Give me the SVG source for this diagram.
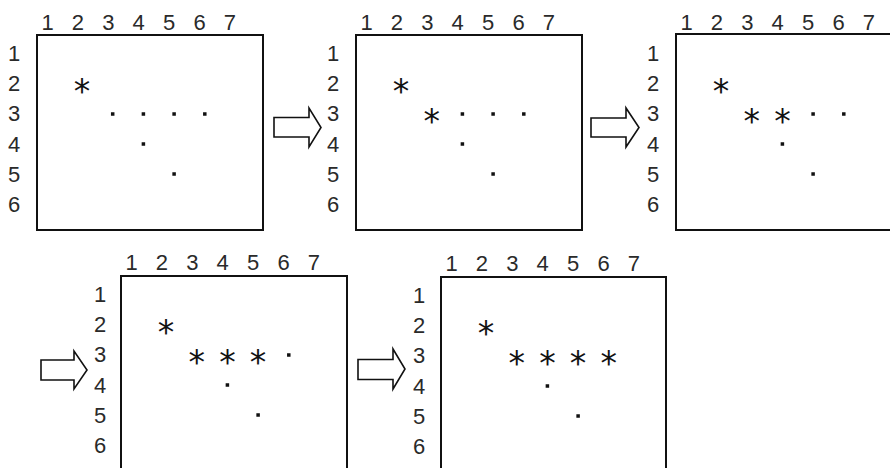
<svg xmlns="http://www.w3.org/2000/svg" width="890" height="468" viewBox="0 0 890 468">
<style>
.box{fill:#fff;stroke:#111;stroke-width:2}
.lbl{font-family:"Liberation Sans",Arial,sans-serif;font-size:22px;fill:#2a2a2a;text-anchor:middle}
.ast{font-family:"DejaVu Sans",sans-serif;font-size:33px;fill:#111;text-anchor:middle}
.dot{fill:#111}
.arr{fill:#fff;stroke:#111;stroke-width:1.6;stroke-linejoin:miter}
</style>
<rect width="890" height="468" fill="#fff"/>
<defs>
<rect id="d" class="dot" x="-1.75" y="-1.75" width="3.5" height="3.5"/>
</defs>

<g id="panel1" transform="translate(37,35)">
<rect class="box" x="0" y="0" width="226" height="195"/>
<text class="lbl" x="10.5" y="-5.5">1</text><text class="lbl" x="40.9" y="-5.5">2</text><text class="lbl" x="71.3" y="-5.5">3</text><text class="lbl" x="101.7" y="-5.5">4</text><text class="lbl" x="132.1" y="-5.5">5</text><text class="lbl" x="162.5" y="-5.5">6</text><text class="lbl" x="192.9" y="-5.5">7</text>
<text class="lbl" x="-23" y="26">1</text><text class="lbl" x="-23" y="56.2">2</text><text class="lbl" x="-23" y="86.4">3</text><text class="lbl" x="-23" y="116.6">4</text><text class="lbl" x="-23" y="146.8">5</text><text class="lbl" x="-23" y="177">6</text>
<text class="ast" x="45" y="68">*</text>
<use href="#d" x="75.7" y="79"/><use href="#d" x="106.4" y="79"/><use href="#d" x="137.1" y="79"/><use href="#d" x="167.8" y="79"/>
<use href="#d" x="106.4" y="109"/><use href="#d" x="137.1" y="139"/>
</g>

<g id="panel2" transform="translate(356,35)">
<rect class="box" x="0" y="0" width="226" height="195"/>
<text class="lbl" x="10.5" y="-5.5">1</text><text class="lbl" x="40.9" y="-5.5">2</text><text class="lbl" x="71.3" y="-5.5">3</text><text class="lbl" x="101.7" y="-5.5">4</text><text class="lbl" x="132.1" y="-5.5">5</text><text class="lbl" x="162.5" y="-5.5">6</text><text class="lbl" x="192.9" y="-5.5">7</text>
<text class="lbl" x="-23" y="26">1</text><text class="lbl" x="-23" y="56.2">2</text><text class="lbl" x="-23" y="86.4">3</text><text class="lbl" x="-23" y="116.6">4</text><text class="lbl" x="-23" y="146.8">5</text><text class="lbl" x="-23" y="177">6</text>
<text class="ast" x="45" y="68">*</text><text class="ast" x="75.7" y="98">*</text>
<use href="#d" x="106.4" y="79"/><use href="#d" x="137.1" y="79"/><use href="#d" x="167.8" y="79"/>
<use href="#d" x="106.4" y="109"/><use href="#d" x="137.1" y="139"/>
</g>

<g id="panel3" transform="translate(676,34)">
<rect class="box" x="0" y="0" width="226" height="196"/>
<text class="lbl" x="10.5" y="-4.5">1</text><text class="lbl" x="40.9" y="-4.5">2</text><text class="lbl" x="71.3" y="-4.5">3</text><text class="lbl" x="101.7" y="-4.5">4</text><text class="lbl" x="132.1" y="-4.5">5</text><text class="lbl" x="162.5" y="-4.5">6</text><text class="lbl" x="192.9" y="-4.5">7</text>
<text class="lbl" x="-23" y="27">1</text><text class="lbl" x="-23" y="57.2">2</text><text class="lbl" x="-23" y="87.4">3</text><text class="lbl" x="-23" y="117.6">4</text><text class="lbl" x="-23" y="147.8">5</text><text class="lbl" x="-23" y="178">6</text>
<text class="ast" x="45" y="69">*</text><text class="ast" x="75.7" y="99">*</text><text class="ast" x="106.4" y="99">*</text>
<use href="#d" x="137.1" y="80"/><use href="#d" x="167.8" y="80"/>
<use href="#d" x="106.4" y="110"/><use href="#d" x="137.1" y="140"/>
</g>

<g id="panel4" transform="translate(121,276)">
<rect class="box" x="0" y="0" width="226" height="200"/>
<text class="lbl" x="10.5" y="-6">1</text><text class="lbl" x="40.9" y="-6">2</text><text class="lbl" x="71.3" y="-6">3</text><text class="lbl" x="101.7" y="-6">4</text><text class="lbl" x="132.1" y="-6">5</text><text class="lbl" x="162.5" y="-6">6</text><text class="lbl" x="192.9" y="-6">7</text>
<text class="lbl" x="-21" y="26">1</text><text class="lbl" x="-21" y="56.2">2</text><text class="lbl" x="-21" y="86.4">3</text><text class="lbl" x="-21" y="116.6">4</text><text class="lbl" x="-21" y="146.8">5</text><text class="lbl" x="-21" y="177">6</text>
<text class="ast" x="45" y="68">*</text><text class="ast" x="75.7" y="98">*</text><text class="ast" x="106.4" y="98">*</text><text class="ast" x="137.1" y="98">*</text>
<use href="#d" x="167.8" y="79"/>
<use href="#d" x="106.4" y="109"/><use href="#d" x="137.1" y="139"/>
</g>

<g id="panel5" transform="translate(441,277)">
<rect class="box" x="0" y="0" width="225" height="200"/>
<text class="lbl" x="10.5" y="-6">1</text><text class="lbl" x="40.9" y="-6">2</text><text class="lbl" x="71.3" y="-6">3</text><text class="lbl" x="101.7" y="-6">4</text><text class="lbl" x="132.1" y="-6">5</text><text class="lbl" x="162.5" y="-6">6</text><text class="lbl" x="192.9" y="-6">7</text>
<text class="lbl" x="-22" y="26">1</text><text class="lbl" x="-22" y="56.2">2</text><text class="lbl" x="-22" y="86.4">3</text><text class="lbl" x="-22" y="116.6">4</text><text class="lbl" x="-22" y="146.8">5</text><text class="lbl" x="-22" y="177">6</text>
<text class="ast" x="45" y="68">*</text><text class="ast" x="75.7" y="98">*</text><text class="ast" x="106.4" y="98">*</text><text class="ast" x="137.1" y="98">*</text><text class="ast" x="167.8" y="98">*</text>
<use href="#d" x="106.4" y="109"/><use href="#d" x="137.1" y="139"/>
</g>

<g id="connectors">
<polygon class="arr" points="274,117.5 309,117.5 309,108 321,127.5 309,147 309,137 274,137"/>
<polygon class="arr" points="591,118 626,118 626,108 639,127.5 626,147 626,137 591,137"/>
<polygon class="arr" points="41,360 74,360 74,351 87,370 74,389 74,380 41,380"/>
<polygon class="arr" points="358,359.5 393,359.5 393,349 405,369 393,389 393,379.5 358,379.5"/>
</g>
</svg>
